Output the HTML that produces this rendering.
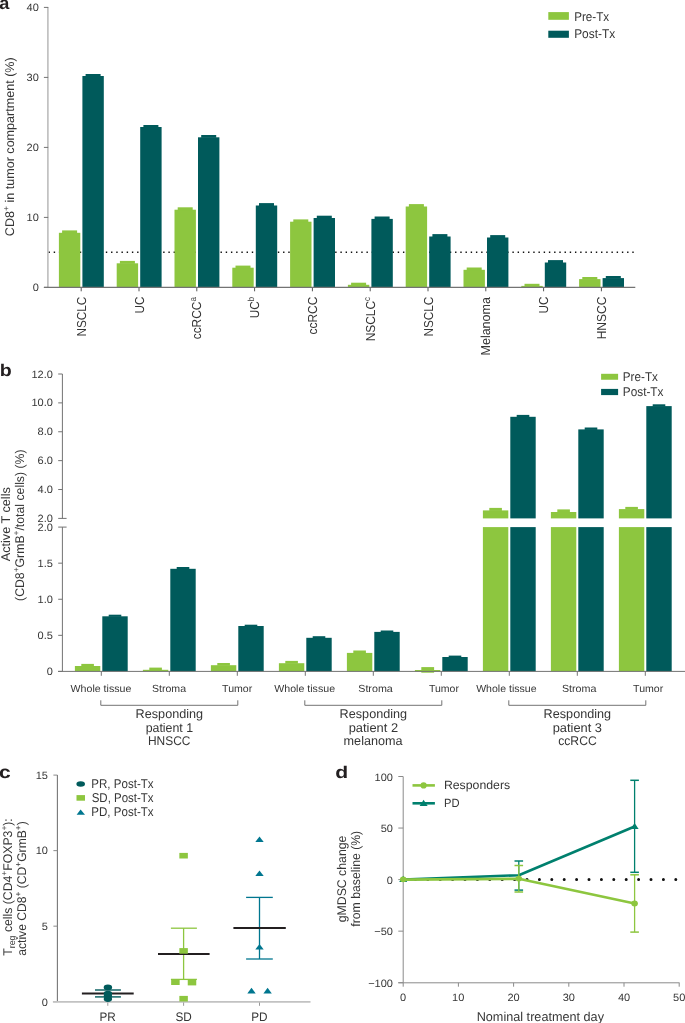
<!DOCTYPE html>
<html><head><meta charset="utf-8"><style>
html,body{margin:0;padding:0;background:#fff;}
svg{display:block;font-family:"Liberation Sans", sans-serif;will-change:transform;text-rendering:geometricPrecision;}
</style></head><body>
<svg width="685" height="1023" viewBox="0 0 685 1023">
<rect width="685" height="1023" fill="#fff"/>
<text x="-0.84" y="9.00" font-size="17.5" fill="#231f20" font-weight="bold" textLength="10.08" lengthAdjust="spacingAndGlyphs">a</text>
<text x="-0.37" y="376.30" font-size="17" fill="#231f20" font-weight="bold" textLength="11.98" lengthAdjust="spacingAndGlyphs">b</text>
<text x="-1.14" y="777.80" font-size="17.5" fill="#231f20" font-weight="bold" textLength="11.70" lengthAdjust="spacingAndGlyphs">c</text>
<text x="335.35" y="778.10" font-size="17" fill="#231f20" font-weight="bold" textLength="12.94" lengthAdjust="spacingAndGlyphs">d</text>
<line x1="48.5" y1="252.3" x2="634" y2="252.3" stroke="#111" stroke-width="1.4" stroke-dasharray="1.4 3.8125"/>
<line x1="47.90" y1="7.10" x2="47.90" y2="287.40" stroke="#b8b8b8" stroke-width="1.5" />
<line x1="43.90" y1="287.40" x2="48.20" y2="287.40" stroke="#737373" stroke-width="1" />
<text x="32.67" y="291.20" font-size="10.6" fill="#363636" textLength="6.13" lengthAdjust="spacingAndGlyphs">0</text>
<line x1="43.90" y1="217.40" x2="48.20" y2="217.40" stroke="#737373" stroke-width="1" />
<text x="26.55" y="221.20" font-size="10.6" fill="#363636" textLength="12.25" lengthAdjust="spacingAndGlyphs">10</text>
<line x1="43.90" y1="147.40" x2="48.20" y2="147.40" stroke="#737373" stroke-width="1" />
<text x="26.55" y="151.20" font-size="10.6" fill="#363636" textLength="12.25" lengthAdjust="spacingAndGlyphs">20</text>
<line x1="43.90" y1="77.40" x2="48.20" y2="77.40" stroke="#737373" stroke-width="1" />
<text x="26.55" y="81.20" font-size="10.6" fill="#363636" textLength="12.25" lengthAdjust="spacingAndGlyphs">30</text>
<line x1="43.90" y1="7.40" x2="48.20" y2="7.40" stroke="#737373" stroke-width="1" />
<text x="26.55" y="11.20" font-size="10.6" fill="#363636" textLength="12.25" lengthAdjust="spacingAndGlyphs">40</text>
<rect x="58.90" y="232.80" width="21.40" height="54.80" fill="#8DC63F" />
<rect x="62.10" y="230.40" width="15.00" height="2.90" fill="#8DC63F" />
<rect x="82.40" y="76.00" width="21.40" height="211.60" fill="#005A5B" />
<rect x="85.60" y="74.00" width="15.00" height="2.50" fill="#005A5B" />
<line x1="81.20" y1="287.10" x2="81.20" y2="291.30" stroke="#555" stroke-width="1" />
<text transform="translate(85.70,336.44) rotate(-90)" font-size="13.0" fill="#363636" textLength="39.78" lengthAdjust="spacingAndGlyphs">NSCLC</text>
<rect x="116.70" y="263.30" width="21.40" height="24.30" fill="#8DC63F" />
<rect x="119.90" y="260.90" width="15.00" height="2.90" fill="#8DC63F" />
<rect x="140.20" y="127.00" width="21.40" height="160.60" fill="#005A5B" />
<rect x="143.40" y="125.00" width="15.00" height="2.50" fill="#005A5B" />
<line x1="139.00" y1="287.10" x2="139.00" y2="291.30" stroke="#555" stroke-width="1" />
<text transform="translate(143.50,313.47) rotate(-90)" font-size="13.0" fill="#363636" textLength="16.81" lengthAdjust="spacingAndGlyphs">UC</text>
<rect x="174.50" y="209.70" width="21.40" height="77.90" fill="#8DC63F" />
<rect x="177.70" y="207.30" width="15.00" height="2.90" fill="#8DC63F" />
<rect x="198.00" y="137.30" width="21.40" height="150.30" fill="#005A5B" />
<rect x="201.20" y="135.00" width="15.00" height="2.80" fill="#005A5B" />
<line x1="196.80" y1="287.10" x2="196.80" y2="291.30" stroke="#555" stroke-width="1" />
<text transform="translate(201.30,339.28) rotate(-90)" font-size="13.0" fill="#363636" textLength="42.19" lengthAdjust="spacingAndGlyphs">ccRCC<tspan font-size="8.84" baseline-shift="5.5">a</tspan></text>
<rect x="232.30" y="267.70" width="21.40" height="19.90" fill="#8DC63F" />
<rect x="235.50" y="265.60" width="15.00" height="2.60" fill="#8DC63F" />
<rect x="255.80" y="205.50" width="21.40" height="82.10" fill="#005A5B" />
<rect x="259.00" y="203.10" width="15.00" height="2.90" fill="#005A5B" />
<line x1="254.60" y1="287.10" x2="254.60" y2="291.30" stroke="#555" stroke-width="1" />
<text transform="translate(259.10,318.18) rotate(-90)" font-size="13.0" fill="#363636" textLength="21.41" lengthAdjust="spacingAndGlyphs">UC<tspan font-size="8.84" baseline-shift="5.5">b</tspan></text>
<rect x="290.10" y="221.70" width="21.40" height="65.90" fill="#8DC63F" />
<rect x="293.30" y="219.40" width="15.00" height="2.80" fill="#8DC63F" />
<rect x="313.60" y="218.00" width="21.40" height="69.60" fill="#005A5B" />
<rect x="316.80" y="215.70" width="15.00" height="2.80" fill="#005A5B" />
<line x1="312.40" y1="287.10" x2="312.40" y2="291.30" stroke="#555" stroke-width="1" />
<text transform="translate(316.90,334.48) rotate(-90)" font-size="13.0" fill="#363636" textLength="37.82" lengthAdjust="spacingAndGlyphs">ccRCC</text>
<rect x="347.90" y="284.80" width="21.40" height="2.80" fill="#8DC63F" />
<rect x="351.10" y="282.70" width="15.00" height="2.60" fill="#8DC63F" />
<rect x="371.40" y="218.90" width="21.40" height="68.70" fill="#005A5B" />
<rect x="374.60" y="216.50" width="15.00" height="2.90" fill="#005A5B" />
<line x1="370.20" y1="287.10" x2="370.20" y2="291.30" stroke="#555" stroke-width="1" />
<text transform="translate(374.70,341.35) rotate(-90)" font-size="13.0" fill="#363636" textLength="44.46" lengthAdjust="spacingAndGlyphs">NSCLC<tspan font-size="8.84" baseline-shift="5.5">c</tspan></text>
<rect x="405.70" y="206.50" width="21.40" height="81.10" fill="#8DC63F" />
<rect x="408.90" y="204.10" width="15.00" height="2.90" fill="#8DC63F" />
<rect x="429.20" y="236.50" width="21.40" height="51.10" fill="#005A5B" />
<rect x="432.40" y="234.10" width="15.00" height="2.90" fill="#005A5B" />
<line x1="428.00" y1="287.10" x2="428.00" y2="291.30" stroke="#555" stroke-width="1" />
<text transform="translate(432.50,336.44) rotate(-90)" font-size="13.0" fill="#363636" textLength="39.78" lengthAdjust="spacingAndGlyphs">NSCLC</text>
<rect x="463.50" y="269.80" width="21.40" height="17.80" fill="#8DC63F" />
<rect x="466.70" y="267.50" width="15.00" height="2.80" fill="#8DC63F" />
<rect x="487.00" y="237.50" width="21.40" height="50.10" fill="#005A5B" />
<rect x="490.20" y="235.10" width="15.00" height="2.90" fill="#005A5B" />
<line x1="485.80" y1="287.10" x2="485.80" y2="291.30" stroke="#555" stroke-width="1" />
<text transform="translate(490.30,355.50) rotate(-90)" font-size="13.0" fill="#363636" textLength="58.42" lengthAdjust="spacingAndGlyphs">Melanoma</text>
<rect x="521.30" y="285.90" width="21.40" height="1.70" fill="#8DC63F" />
<rect x="524.50" y="283.80" width="15.00" height="2.60" fill="#8DC63F" />
<rect x="544.80" y="262.50" width="21.40" height="25.10" fill="#005A5B" />
<rect x="548.00" y="260.10" width="15.00" height="2.90" fill="#005A5B" />
<line x1="543.60" y1="287.10" x2="543.60" y2="291.30" stroke="#555" stroke-width="1" />
<text transform="translate(548.10,313.47) rotate(-90)" font-size="13.0" fill="#363636" textLength="16.81" lengthAdjust="spacingAndGlyphs">UC</text>
<rect x="579.10" y="279.10" width="21.40" height="8.50" fill="#8DC63F" />
<rect x="582.30" y="277.00" width="15.00" height="2.60" fill="#8DC63F" />
<rect x="602.60" y="278.10" width="21.40" height="9.50" fill="#005A5B" />
<rect x="605.80" y="276.00" width="15.00" height="2.60" fill="#005A5B" />
<line x1="601.40" y1="287.10" x2="601.40" y2="291.30" stroke="#555" stroke-width="1" />
<text transform="translate(605.90,339.36) rotate(-90)" font-size="13.0" fill="#363636" textLength="42.71" lengthAdjust="spacingAndGlyphs">HNSCC</text>
<line x1="43.90" y1="287.40" x2="635.30" y2="287.40" stroke="#737373" stroke-width="1.1" />
<text transform="translate(13.70,236.13) rotate(-90)" font-size="12.6" fill="#363636" textLength="178.82" lengthAdjust="spacingAndGlyphs">CD8<tspan font-size="8.57" baseline-shift="5.5">+</tspan> in tumor compartment (%)</text>
<rect x="548.30" y="12.10" width="20.60" height="7.70" fill="#8DC63F" />
<rect x="548.30" y="30.70" width="20.60" height="7.10" fill="#005A5B" />
<text x="574.17" y="20.50" font-size="12.8" fill="#363636" textLength="35.05" lengthAdjust="spacingAndGlyphs">Pre-Tx</text>
<text x="574.15" y="38.40" font-size="12.8" fill="#363636" textLength="41.07" lengthAdjust="spacingAndGlyphs">Post-Tx</text>
<line x1="62.40" y1="374.00" x2="62.40" y2="518.40" stroke="#737373" stroke-width="1" />
<line x1="62.40" y1="527.10" x2="62.40" y2="671.40" stroke="#737373" stroke-width="1" />
<line x1="58.20" y1="374.00" x2="62.40" y2="374.00" stroke="#737373" stroke-width="1" />
<text x="31.44" y="377.60" font-size="10.6" fill="#363636" textLength="21.45" lengthAdjust="spacingAndGlyphs">12.0</text>
<line x1="58.20" y1="402.88" x2="62.40" y2="402.88" stroke="#737373" stroke-width="1" />
<text x="31.44" y="406.48" font-size="10.6" fill="#363636" textLength="21.45" lengthAdjust="spacingAndGlyphs">10.0</text>
<line x1="58.20" y1="431.76" x2="62.40" y2="431.76" stroke="#737373" stroke-width="1" />
<text x="37.56" y="435.36" font-size="10.6" fill="#363636" textLength="15.34" lengthAdjust="spacingAndGlyphs">8.0</text>
<line x1="58.20" y1="460.64" x2="62.40" y2="460.64" stroke="#737373" stroke-width="1" />
<text x="37.56" y="464.24" font-size="10.6" fill="#363636" textLength="15.34" lengthAdjust="spacingAndGlyphs">6.0</text>
<line x1="58.20" y1="489.52" x2="62.40" y2="489.52" stroke="#737373" stroke-width="1" />
<text x="37.56" y="493.12" font-size="10.6" fill="#363636" textLength="15.34" lengthAdjust="spacingAndGlyphs">4.0</text>
<line x1="58.20" y1="518.40" x2="66.60" y2="518.40" stroke="#737373" stroke-width="1" />
<text x="37.56" y="522.00" font-size="10.6" fill="#363636" textLength="15.34" lengthAdjust="spacingAndGlyphs">2.0</text>
<line x1="58.20" y1="527.10" x2="66.60" y2="527.10" stroke="#737373" stroke-width="1" />
<text x="37.56" y="530.70" font-size="10.6" fill="#363636" textLength="15.34" lengthAdjust="spacingAndGlyphs">2.0</text>
<line x1="58.20" y1="563.17" x2="62.40" y2="563.17" stroke="#737373" stroke-width="1" />
<text x="37.62" y="566.77" font-size="10.6" fill="#363636" textLength="15.34" lengthAdjust="spacingAndGlyphs">1.5</text>
<line x1="58.20" y1="599.25" x2="62.40" y2="599.25" stroke="#737373" stroke-width="1" />
<text x="37.56" y="602.85" font-size="10.6" fill="#363636" textLength="15.34" lengthAdjust="spacingAndGlyphs">1.0</text>
<line x1="58.20" y1="635.33" x2="62.40" y2="635.33" stroke="#737373" stroke-width="1" />
<text x="37.62" y="638.93" font-size="10.6" fill="#363636" textLength="15.34" lengthAdjust="spacingAndGlyphs">0.5</text>
<line x1="58.20" y1="671.40" x2="62.40" y2="671.40" stroke="#737373" stroke-width="1" />
<text x="46.77" y="675.00" font-size="10.6" fill="#363636" textLength="6.13" lengthAdjust="spacingAndGlyphs">0</text>
<rect x="74.90" y="666.00" width="25.40" height="5.40" fill="#8DC63F" />
<rect x="81.30" y="663.90" width="12.60" height="2.60" fill="#8DC63F" />
<rect x="102.30" y="616.30" width="25.40" height="55.10" fill="#005A5B" />
<rect x="108.70" y="614.70" width="12.60" height="2.10" fill="#005A5B" />
<line x1="101.30" y1="671.40" x2="101.30" y2="675.80" stroke="#737373" stroke-width="1" />
<text x="70.55" y="691.50" font-size="10.3" fill="#363636" textLength="60.79" lengthAdjust="spacingAndGlyphs">Whole tissue</text>
<rect x="142.90" y="669.80" width="25.40" height="1.60" fill="#8DC63F" />
<rect x="149.30" y="667.60" width="12.60" height="2.70" fill="#8DC63F" />
<rect x="170.30" y="568.80" width="25.40" height="102.60" fill="#005A5B" />
<rect x="176.70" y="567.00" width="12.60" height="2.30" fill="#005A5B" />
<line x1="169.30" y1="671.40" x2="169.30" y2="675.80" stroke="#737373" stroke-width="1" />
<text x="151.92" y="691.50" font-size="10.3" fill="#363636" textLength="34.19" lengthAdjust="spacingAndGlyphs">Stroma</text>
<rect x="210.90" y="665.20" width="25.40" height="6.20" fill="#8DC63F" />
<rect x="217.30" y="663.00" width="12.60" height="2.70" fill="#8DC63F" />
<rect x="238.30" y="626.00" width="25.40" height="45.40" fill="#005A5B" />
<rect x="244.70" y="624.70" width="12.60" height="1.80" fill="#005A5B" />
<line x1="237.30" y1="671.40" x2="237.30" y2="675.80" stroke="#737373" stroke-width="1" />
<text x="222.09" y="691.50" font-size="10.3" fill="#363636" textLength="30.15" lengthAdjust="spacingAndGlyphs">Tumor</text>
<rect x="278.90" y="663.20" width="25.40" height="8.20" fill="#8DC63F" />
<rect x="285.30" y="660.90" width="12.60" height="2.80" fill="#8DC63F" />
<rect x="306.30" y="637.80" width="25.40" height="33.60" fill="#005A5B" />
<rect x="312.70" y="636.20" width="12.60" height="2.10" fill="#005A5B" />
<line x1="305.30" y1="671.40" x2="305.30" y2="675.80" stroke="#737373" stroke-width="1" />
<text x="274.25" y="691.50" font-size="10.3" fill="#363636" textLength="60.79" lengthAdjust="spacingAndGlyphs">Whole tissue</text>
<rect x="346.90" y="652.90" width="25.40" height="18.50" fill="#8DC63F" />
<rect x="353.30" y="650.50" width="12.60" height="2.90" fill="#8DC63F" />
<rect x="374.30" y="631.90" width="25.40" height="39.50" fill="#005A5B" />
<rect x="380.70" y="630.50" width="12.60" height="1.90" fill="#005A5B" />
<line x1="373.30" y1="671.40" x2="373.30" y2="675.80" stroke="#737373" stroke-width="1" />
<text x="358.22" y="691.50" font-size="10.3" fill="#363636" textLength="34.60" lengthAdjust="spacingAndGlyphs">Stroma</text>
<rect x="414.90" y="670.00" width="25.40" height="1.60" fill="#8DC63F" />
<rect x="421.30" y="667.10" width="12.80" height="5.60" fill="#8DC63F" />
<rect x="442.30" y="657.00" width="25.40" height="14.40" fill="#005A5B" />
<rect x="448.70" y="655.60" width="12.60" height="1.90" fill="#005A5B" />
<line x1="441.30" y1="671.40" x2="441.30" y2="675.80" stroke="#737373" stroke-width="1" />
<text x="428.99" y="691.50" font-size="10.3" fill="#363636" textLength="29.95" lengthAdjust="spacingAndGlyphs">Tumor</text>
<rect x="482.90" y="510.40" width="25.40" height="8.00" fill="#8DC63F" />
<rect x="482.90" y="527.10" width="25.40" height="144.30" fill="#8DC63F" />
<rect x="489.30" y="507.90" width="12.60" height="3.00" fill="#8DC63F" />
<rect x="510.30" y="416.80" width="25.40" height="101.60" fill="#005A5B" />
<rect x="510.30" y="527.10" width="25.40" height="144.30" fill="#005A5B" />
<rect x="516.70" y="414.90" width="12.60" height="2.40" fill="#005A5B" />
<line x1="509.30" y1="671.40" x2="509.30" y2="675.80" stroke="#737373" stroke-width="1" />
<text x="476.15" y="691.50" font-size="10.3" fill="#363636" textLength="60.39" lengthAdjust="spacingAndGlyphs">Whole tissue</text>
<rect x="550.90" y="512.00" width="25.40" height="6.40" fill="#8DC63F" />
<rect x="550.90" y="527.10" width="25.40" height="144.30" fill="#8DC63F" />
<rect x="557.30" y="509.40" width="12.60" height="3.10" fill="#8DC63F" />
<rect x="578.30" y="429.40" width="25.40" height="89.00" fill="#005A5B" />
<rect x="578.30" y="527.10" width="25.40" height="144.30" fill="#005A5B" />
<rect x="584.70" y="427.50" width="12.60" height="2.40" fill="#005A5B" />
<line x1="577.30" y1="671.40" x2="577.30" y2="675.80" stroke="#737373" stroke-width="1" />
<text x="561.92" y="691.50" font-size="10.3" fill="#363636" textLength="34.60" lengthAdjust="spacingAndGlyphs">Stroma</text>
<rect x="618.90" y="509.10" width="25.40" height="9.30" fill="#8DC63F" />
<rect x="618.90" y="527.10" width="25.40" height="144.30" fill="#8DC63F" />
<rect x="625.30" y="506.90" width="12.60" height="2.70" fill="#8DC63F" />
<rect x="646.30" y="406.10" width="25.40" height="112.30" fill="#005A5B" />
<rect x="646.30" y="527.10" width="25.40" height="144.30" fill="#005A5B" />
<rect x="652.70" y="404.30" width="12.60" height="2.30" fill="#005A5B" />
<line x1="645.30" y1="671.40" x2="645.30" y2="675.80" stroke="#737373" stroke-width="1" />
<text x="633.09" y="691.50" font-size="10.3" fill="#363636" textLength="30.15" lengthAdjust="spacingAndGlyphs">Tumor</text>
<line x1="58.00" y1="671.40" x2="685.00" y2="671.40" stroke="#737373" stroke-width="1" />
<path d="M100.80,700.3 V705.3 H237.80 V700.3" fill="none" stroke="#737373" stroke-width="1"/>
<text x="135.64" y="717.70" font-size="12.6" fill="#363636" textLength="67.48" lengthAdjust="spacingAndGlyphs">Responding</text>
<text x="145.65" y="731.60" font-size="12.6" fill="#363636" textLength="47.48" lengthAdjust="spacingAndGlyphs">patient 1</text>
<text x="147.99" y="744.70" font-size="12.6" fill="#363636" textLength="42.50" lengthAdjust="spacingAndGlyphs">HNSCC</text>
<path d="M304.80,700.3 V705.3 H441.80 V700.3" fill="none" stroke="#737373" stroke-width="1"/>
<text x="339.64" y="717.70" font-size="12.6" fill="#363636" textLength="67.48" lengthAdjust="spacingAndGlyphs">Responding</text>
<text x="348.71" y="731.60" font-size="12.6" fill="#363636" textLength="49.40" lengthAdjust="spacingAndGlyphs">patient 2</text>
<text x="343.58" y="744.70" font-size="12.6" fill="#363636" textLength="59.04" lengthAdjust="spacingAndGlyphs">melanoma</text>
<path d="M508.80,700.3 V705.3 H645.80 V700.3" fill="none" stroke="#737373" stroke-width="1"/>
<text x="543.64" y="717.70" font-size="12.6" fill="#363636" textLength="67.48" lengthAdjust="spacingAndGlyphs">Responding</text>
<text x="552.72" y="731.60" font-size="12.6" fill="#363636" textLength="49.26" lengthAdjust="spacingAndGlyphs">patient 3</text>
<text x="558.16" y="744.70" font-size="12.6" fill="#363636" textLength="38.64" lengthAdjust="spacingAndGlyphs">ccRCC</text>
<text transform="translate(9.90,561.30) rotate(-90)" font-size="12.6" fill="#363636" textLength="74.14" lengthAdjust="spacingAndGlyphs">Active T cells</text>
<text transform="translate(24.40,600.94) rotate(-90)" font-size="12.6" fill="#363636" textLength="151.51" lengthAdjust="spacingAndGlyphs">(CD8<tspan font-size="8.57" baseline-shift="5.5">+</tspan>GrmB<tspan font-size="8.57" baseline-shift="5.5">+</tspan>/total cells) (%)</text>
<rect x="601.10" y="373.80" width="17.00" height="5.95" fill="#8DC63F" />
<rect x="601.10" y="388.90" width="17.00" height="6.20" fill="#005A5B" />
<text x="622.81" y="380.80" font-size="12.8" fill="#363636" textLength="35.10" lengthAdjust="spacingAndGlyphs">Pre-Tx</text>
<text x="622.80" y="395.80" font-size="12.8" fill="#363636" textLength="40.71" lengthAdjust="spacingAndGlyphs">Post-Tx</text>
<line x1="57.40" y1="775.10" x2="57.40" y2="1001.70" stroke="#777" stroke-width="1.1" />
<line x1="53.40" y1="1001.70" x2="57.40" y2="1001.70" stroke="#8a8a8a" stroke-width="1" />
<text x="41.77" y="1005.50" font-size="10.6" fill="#363636" textLength="6.13" lengthAdjust="spacingAndGlyphs">0</text>
<line x1="53.40" y1="926.17" x2="57.40" y2="926.17" stroke="#8a8a8a" stroke-width="1" />
<text x="41.82" y="929.97" font-size="10.6" fill="#363636" textLength="6.13" lengthAdjust="spacingAndGlyphs">5</text>
<line x1="53.40" y1="850.63" x2="57.40" y2="850.63" stroke="#8a8a8a" stroke-width="1" />
<text x="35.65" y="854.43" font-size="10.6" fill="#363636" textLength="12.25" lengthAdjust="spacingAndGlyphs">10</text>
<line x1="53.40" y1="775.10" x2="57.40" y2="775.10" stroke="#8a8a8a" stroke-width="1" />
<text x="35.71" y="778.90" font-size="10.6" fill="#363636" textLength="12.25" lengthAdjust="spacingAndGlyphs">15</text>
<line x1="52.90" y1="1001.95" x2="310.50" y2="1001.95" stroke="#c2c2c2" stroke-width="1.8" />
<line x1="107.80" y1="1002.50" x2="107.80" y2="1005.80" stroke="#999" stroke-width="1" />
<text x="99.44" y="1020.80" font-size="12.4" fill="#363636" textLength="16.34" lengthAdjust="spacingAndGlyphs">PR</text>
<line x1="183.60" y1="1002.50" x2="183.60" y2="1005.80" stroke="#999" stroke-width="1" />
<text x="175.44" y="1020.80" font-size="12.4" fill="#363636" textLength="16.34" lengthAdjust="spacingAndGlyphs">SD</text>
<line x1="259.50" y1="1002.50" x2="259.50" y2="1005.80" stroke="#999" stroke-width="1" />
<text x="251.14" y="1020.80" font-size="12.4" fill="#363636" textLength="16.34" lengthAdjust="spacingAndGlyphs">PD</text>
<line x1="95.00" y1="990.00" x2="120.90" y2="990.00" stroke="#005A5B" stroke-width="1.4" />
<line x1="95.00" y1="996.90" x2="120.90" y2="996.90" stroke="#005A5B" stroke-width="1.4" />
<line x1="81.90" y1="993.40" x2="133.70" y2="993.40" stroke="#231f20" stroke-width="2" />
<ellipse cx="107.9" cy="999.1" rx="4.2" ry="2.8" fill="#005A5B"/>
<ellipse cx="107.9" cy="996.0" rx="4.2" ry="2.8" fill="#005A5B"/>
<ellipse cx="107.9" cy="993.5" rx="4.2" ry="2.8" fill="#005A5B"/>
<ellipse cx="107.9" cy="987.4" rx="4.2" ry="2.8" fill="#005A5B"/>
<line x1="183.60" y1="928.20" x2="183.60" y2="979.40" stroke="#8DC63F" stroke-width="1.3" />
<line x1="170.90" y1="928.20" x2="196.90" y2="928.20" stroke="#8DC63F" stroke-width="1.3" />
<line x1="170.90" y1="979.40" x2="196.90" y2="979.40" stroke="#8DC63F" stroke-width="1.3" />
<line x1="158.00" y1="954.00" x2="209.60" y2="954.00" stroke="#231f20" stroke-width="2" />
<rect x="179.35" y="852.90" width="8.50" height="5.60" fill="#8DC63F" />
<rect x="179.35" y="948.10" width="8.50" height="5.60" fill="#8DC63F" />
<rect x="171.15" y="979.40" width="8.50" height="5.60" fill="#8DC63F" />
<rect x="187.75" y="979.80" width="8.50" height="5.60" fill="#8DC63F" />
<rect x="179.35" y="995.90" width="8.50" height="5.60" fill="#8DC63F" />
<line x1="259.50" y1="897.40" x2="259.50" y2="959.00" stroke="#00768F" stroke-width="1.3" />
<line x1="246.10" y1="897.40" x2="272.80" y2="897.40" stroke="#00768F" stroke-width="1.3" />
<line x1="246.10" y1="959.00" x2="272.80" y2="959.00" stroke="#00768F" stroke-width="1.3" />
<line x1="233.40" y1="928.00" x2="285.80" y2="928.00" stroke="#231f20" stroke-width="2" />
<path d="M259.5,836.5 L263.7,842.1 L255.3,842.1 Z" fill="#00768F"/>
<path d="M259.5,870.4 L263.7,876.0 L255.3,876.0 Z" fill="#00768F"/>
<path d="M259.5,943.9 L263.7,949.5 L255.3,949.5 Z" fill="#00768F"/>
<path d="M251.5,987.8 L255.7,993.4 L247.3,993.4 Z" fill="#00768F"/>
<path d="M267.6,987.8 L271.8,993.4 L263.40000000000003,993.4 Z" fill="#00768F"/>
<ellipse cx="80.7" cy="784" rx="4.3" ry="2.8" fill="#005A5B"/>
<rect x="76.50" y="795.10" width="8.50" height="5.60" fill="#8DC63F" />
<path d="M80.6,809.5 L85,814.8 L76.6,814.8 Z" fill="#00768F"/>
<text x="91.27" y="787.80" font-size="12.8" fill="#363636" textLength="62.34" lengthAdjust="spacingAndGlyphs">PR, Post-Tx</text>
<text x="91.68" y="802.20" font-size="12.8" fill="#363636" textLength="61.93" lengthAdjust="spacingAndGlyphs">SD, Post-Tx</text>
<text x="91.27" y="816.00" font-size="12.8" fill="#363636" textLength="62.34" lengthAdjust="spacingAndGlyphs">PD, Post-Tx</text>
<text transform="translate(11.90,955.75) rotate(-90)" font-size="12.6" fill="#363636" textLength="137.52" lengthAdjust="spacingAndGlyphs">T<tspan font-size="9.07" baseline-shift="-3.2">reg</tspan> cells (CD4<tspan font-size="8.57" baseline-shift="5.5">+</tspan>FOXP3<tspan font-size="8.57" baseline-shift="5.5">+</tspan>):</text>
<text transform="translate(26.30,955.79) rotate(-90)" font-size="12.6" fill="#363636" textLength="134.55" lengthAdjust="spacingAndGlyphs">active CD8<tspan font-size="8.57" baseline-shift="5.5">+</tspan> (CD<tspan font-size="8.57" baseline-shift="5.5">+</tspan>GrmB<tspan font-size="8.57" baseline-shift="5.5">+</tspan>)</text>
<line x1="403.20" y1="776.60" x2="403.20" y2="982.80" stroke="#8a8a8a" stroke-width="1" />
<line x1="398.30" y1="776.50" x2="403.20" y2="776.50" stroke="#8a8a8a" stroke-width="1" />
<text x="374.63" y="780.70" font-size="10.6" fill="#363636" textLength="18.37" lengthAdjust="spacingAndGlyphs">100</text>
<line x1="398.30" y1="828.05" x2="403.20" y2="828.05" stroke="#8a8a8a" stroke-width="1" />
<text x="380.75" y="832.25" font-size="10.6" fill="#363636" textLength="12.25" lengthAdjust="spacingAndGlyphs">50</text>
<line x1="398.30" y1="879.60" x2="403.20" y2="879.60" stroke="#8a8a8a" stroke-width="1" />
<text x="386.87" y="883.80" font-size="10.6" fill="#363636" textLength="6.13" lengthAdjust="spacingAndGlyphs">0</text>
<line x1="398.30" y1="931.15" x2="403.20" y2="931.15" stroke="#8a8a8a" stroke-width="1" />
<text x="374.30" y="935.35" font-size="10.6" fill="#363636" textLength="18.70" lengthAdjust="spacingAndGlyphs">−50</text>
<line x1="398.30" y1="982.70" x2="403.20" y2="982.70" stroke="#8a8a8a" stroke-width="1" />
<text x="368.18" y="986.90" font-size="10.6" fill="#363636" textLength="24.82" lengthAdjust="spacingAndGlyphs">−100</text>
<line x1="398.30" y1="982.80" x2="679.50" y2="982.80" stroke="#8a8a8a" stroke-width="1" />
<line x1="403.20" y1="982.80" x2="403.20" y2="986.70" stroke="#8a8a8a" stroke-width="1" />
<text x="400.11" y="1000.80" font-size="10.6" fill="#363636" textLength="6.13" lengthAdjust="spacingAndGlyphs">0</text>
<line x1="458.40" y1="982.80" x2="458.40" y2="986.70" stroke="#8a8a8a" stroke-width="1" />
<text x="452.06" y="1000.80" font-size="10.6" fill="#363636" textLength="12.25" lengthAdjust="spacingAndGlyphs">10</text>
<line x1="513.60" y1="982.80" x2="513.60" y2="986.70" stroke="#8a8a8a" stroke-width="1" />
<text x="507.40" y="1000.80" font-size="10.6" fill="#363636" textLength="12.25" lengthAdjust="spacingAndGlyphs">20</text>
<line x1="568.80" y1="982.80" x2="568.80" y2="986.70" stroke="#8a8a8a" stroke-width="1" />
<text x="562.68" y="1000.80" font-size="10.6" fill="#363636" textLength="12.25" lengthAdjust="spacingAndGlyphs">30</text>
<line x1="624.00" y1="982.80" x2="624.00" y2="986.70" stroke="#8a8a8a" stroke-width="1" />
<text x="617.96" y="1000.80" font-size="10.6" fill="#363636" textLength="12.25" lengthAdjust="spacingAndGlyphs">40</text>
<line x1="679.20" y1="982.80" x2="679.20" y2="986.70" stroke="#8a8a8a" stroke-width="1" />
<text x="673.05" y="1000.80" font-size="10.6" fill="#363636" textLength="12.25" lengthAdjust="spacingAndGlyphs">50</text>
<text x="476.69" y="1020.90" font-size="12.8" fill="#363636" textLength="127.31" lengthAdjust="spacingAndGlyphs">Nominal treatment day</text>
<line x1="403" y1="879.4" x2="680" y2="879.4" stroke="#111" stroke-width="3" stroke-linecap="round" stroke-dasharray="0 12.4"/>
<line x1="518.80" y1="861.00" x2="518.80" y2="890.10" stroke="#00806E" stroke-width="1.3" />
<line x1="514.50" y1="861.00" x2="523.10" y2="861.00" stroke="#00806E" stroke-width="1.5" />
<line x1="514.50" y1="890.10" x2="523.10" y2="890.10" stroke="#00806E" stroke-width="1.5" />
<line x1="634.60" y1="780.30" x2="634.60" y2="872.30" stroke="#00806E" stroke-width="1.3" />
<line x1="630.30" y1="780.30" x2="638.90" y2="780.30" stroke="#00806E" stroke-width="1.5" />
<line x1="630.30" y1="872.30" x2="638.90" y2="872.30" stroke="#00806E" stroke-width="1.5" />
<polyline points="403.2,879.6 518.8,875.2 634.6,826.5" fill="none" stroke="#00806E" stroke-width="2.6" stroke-linejoin="round"/>
<path d="M403.2,875.6999999999999 L407.2,881.9 L399.2,881.9 Z" fill="#00806E"/>
<path d="M634.6,822.9 L638.6,829.1 L630.6,829.1 Z" fill="#00806E"/>
<line x1="518.80" y1="865.50" x2="518.80" y2="892.00" stroke="#8DC63F" stroke-width="1.3" />
<line x1="514.50" y1="865.50" x2="523.10" y2="865.50" stroke="#8DC63F" stroke-width="1.5" />
<line x1="514.50" y1="892.00" x2="523.10" y2="892.00" stroke="#8DC63F" stroke-width="1.5" />
<line x1="634.60" y1="874.80" x2="634.60" y2="932.10" stroke="#8DC63F" stroke-width="1.3" />
<line x1="630.30" y1="874.80" x2="638.90" y2="874.80" stroke="#8DC63F" stroke-width="1.5" />
<line x1="630.30" y1="932.10" x2="638.90" y2="932.10" stroke="#8DC63F" stroke-width="1.5" />
<polyline points="403.2,879.6 518.8,878.8 634.6,903.5" fill="none" stroke="#8DC63F" stroke-width="2.6" stroke-linejoin="round"/>
<ellipse cx="403.2" cy="879.3" rx="3.3" ry="2.9" fill="#8DC63F"/>
<ellipse cx="518.8" cy="878.6" rx="3.3" ry="2.9" fill="#8DC63F"/>
<ellipse cx="634.6" cy="903.5" rx="3.3" ry="2.9" fill="#8DC63F"/>
<line x1="412.50" y1="785.40" x2="434.90" y2="785.40" stroke="#8DC63F" stroke-width="2.6" />
<circle cx="423.6" cy="785.4" r="3.1" fill="#8DC63F"/>
<line x1="412.50" y1="803.30" x2="434.90" y2="803.30" stroke="#00806E" stroke-width="2.6" />
<path d="M423.6,799.6999999999999 L427.6,805.9 L419.6,805.9 Z" fill="#00806E"/>
<text x="443.92" y="788.90" font-size="12.0" fill="#363636" textLength="66.31" lengthAdjust="spacingAndGlyphs">Responders</text>
<text x="444.01" y="807.30" font-size="12.0" fill="#363636" textLength="15.52" lengthAdjust="spacingAndGlyphs">PD</text>
<text transform="translate(345.50,922.29) rotate(-90)" font-size="12.6" fill="#363636" textLength="86.70" lengthAdjust="spacingAndGlyphs">gMDSC change</text>
<text transform="translate(359.50,926.68) rotate(-90)" font-size="12.6" fill="#363636" textLength="95.85" lengthAdjust="spacingAndGlyphs">from baseline (%)</text>
</svg>
</body></html>
